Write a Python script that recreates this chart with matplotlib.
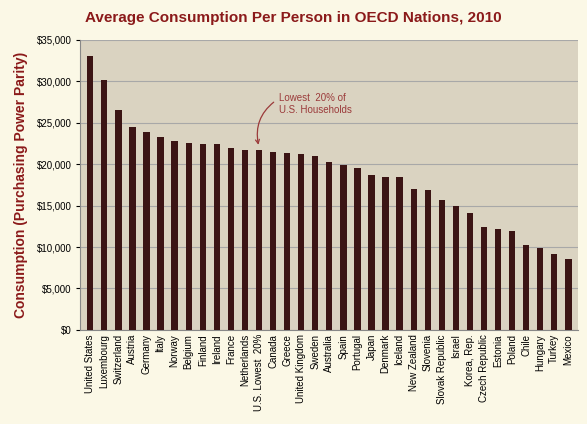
import matplotlib.pyplot as plt
from matplotlib import ticker

plt.rcParams['font.family'] = ['Liberation Sans', 'DejaVu Sans']

countries = ["United States", "Luxembourg", "Switzerland", "Austria", "Germany", "Italy",
             "Norway", "Belgium", "Finland", "Ireland", "France", "Netherlands",
             "U.S. Lowest  20%", "Canada", "Greece", "United Kingdom", "Sweden", "Australia",
             "Spain", "Portugal", "Japan", "Denmark", "Iceland", "New Zealand", "Slovenia",
             "Slovak Republic", "Israel", "Korea, Rep.", "Czech Republic", "Estonia",
             "Poland", "Chile", "Hungary", "Turkey", "Mexico"]
consumption = [33000, 30100, 26500, 24500, 23900, 23300, 22800, 22600, 22400, 22400,
               22000, 21700, 21700, 21500, 21300, 21200, 21000, 20200, 19900, 19500,
               18700, 18500, 18400, 17000, 16900, 15700, 15000, 14100, 12400, 12200,
               11900, 10200, 9900, 9100, 8600]

red = "#8B1A1A"
fig = plt.figure(figsize=(5.87, 4.24), dpi=100, facecolor="#FBF8E6")
ax = fig.add_axes([0.137, 0.222, 0.848, 0.684], facecolor="#DAD3C1")
x = range(len(countries))
ax.bar(x, consumption, width=0.45, color="#3B1414", zorder=3)
ax.set_xlim(-0.7, len(countries) - 0.3)
ax.set_ylim(0, 35000)
ax.yaxis.set_major_locator(ticker.MultipleLocator(5000))
ax.yaxis.set_major_formatter(ticker.StrMethodFormatter("${x:,.0f}"))
ax.grid(axis="y", color="#A8A8A8", linewidth=0.8, zorder=0)
ax.set_xticks(list(x))
ax.set_xticklabels(countries, rotation=90, fontsize=7)
ax.tick_params(axis="y", labelsize=7, length=3)
ax.tick_params(axis="x", length=0, pad=3)
for s in ["top", "right"]:
    ax.spines[s].set_visible(False)
ax.spines["left"].set_color("#888888")
ax.spines["bottom"].set_color("#888888")
ax.set_ylabel("Consumption (Purchasing Power Parity)", color=red, fontsize=10,
              fontweight="bold", labelpad=6)
fig.suptitle("Average Consumption Per Person in OECD Nations, 2010", color=red,
             fontsize=11, fontweight="bold", y=0.975)
ax.annotate("Lowest  20% of\nU.S. Households", xy=(12, consumption[12] + 300),
            xytext=(13.4, 26200), color="#9B3A3A", fontsize=7,
            arrowprops=dict(arrowstyle="->", color="#9B3A3A", lw=0.9,
                            connectionstyle="arc3,rad=0.35",
                            relpos=(0, 0.75)))
fig.savefig("out.png", facecolor=fig.get_facecolor())
